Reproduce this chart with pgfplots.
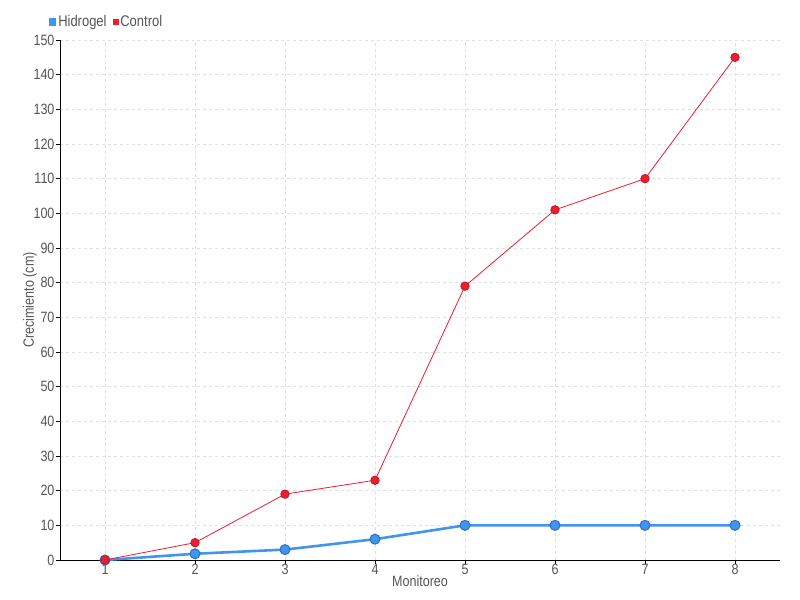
\documentclass[border=0pt]{standalone}
\usepackage{pgfplots}
\pgfplotsset{compat=1.18}
\usepackage{fontspec}
\setmainfont[FakeStretch=0.84]{Liberation Sans}
\definecolor{txt}{HTML}{555555}
\definecolor{hblue}{HTML}{4095EE}
\definecolor{hblueE}{HTML}{2A6FC4}
\definecolor{cred}{HTML}{EE1C2E}
\definecolor{credE}{HTML}{B5121F}
\definecolor{gridc}{HTML}{E0E0E0}
\begin{document}
\begin{tikzpicture}
\path (-60bp,-40bp) rectangle (740bp,560bp);
\begin{axis}[
  scale only axis, width=720bp, height=520bp,
  xmin=0.5, xmax=8.5, ymin=0, ymax=150,
  xtick={1,...,8}, ytick={0,10,...,150},
  axis x line*=bottom, axis y line*=left,
  axis line style={black, line width=0.8pt, -},
  tick style={black, line width=0.6pt},
  tick align=outside, major tick length=4bp,
  grid=major, grid style={gridc, dashed, line width=0.6pt},
  every tick label/.append style={font=\fontsize{15}{17}\selectfont, text=txt},
  xticklabel style={yshift=3bp},
  yticklabel style={xshift=2bp},
  /pgf/number format/assume math mode=true,
  xlabel={Monitoreo}, ylabel={Crecimiento (cm)},
  label style={font=\fontsize{15}{17}\selectfont, text=txt},
  xlabel style={at={(axis description cs:0.5,0)}, anchor=center, yshift=-21bp},
  ylabel style={at={(axis description cs:0,0.5)}, anchor=center, yshift=30bp},
  legend style={at={(rel axis cs:-0.016,1.036)}, anchor=west, draw=none, fill=none,
    font=\fontsize{15.5}{17}\selectfont, text=txt, legend columns=2,
    /tikz/every even column/.append style={column sep=4bp}, inner sep=0pt},
  legend image code/.code={\fill[#1] (0bp,-3bp) rectangle (5bp,2bp);},
  clip=false,
]
\addplot[hblue, line width=2.6bp, mark=*, mark size=5bp,
  mark options={fill=hblue, draw=hblueE, line width=1bp}] coordinates {
  (1,0) (2,1.8) (3,3) (4,6) (5,10) (6,10) (7,10) (8,10)};
\addlegendentry{Hidrogel}
\addplot[cred, line width=0.8bp, mark=*, mark size=4.3bp,
  mark options={fill=cred, draw=credE, line width=0.6bp}] coordinates {
  (1,0) (2,5) (3,19) (4,23) (5,79) (6,101) (7,110) (8,145)};
\addlegendentry{Control}
\end{axis}
\end{tikzpicture}
\end{document}
